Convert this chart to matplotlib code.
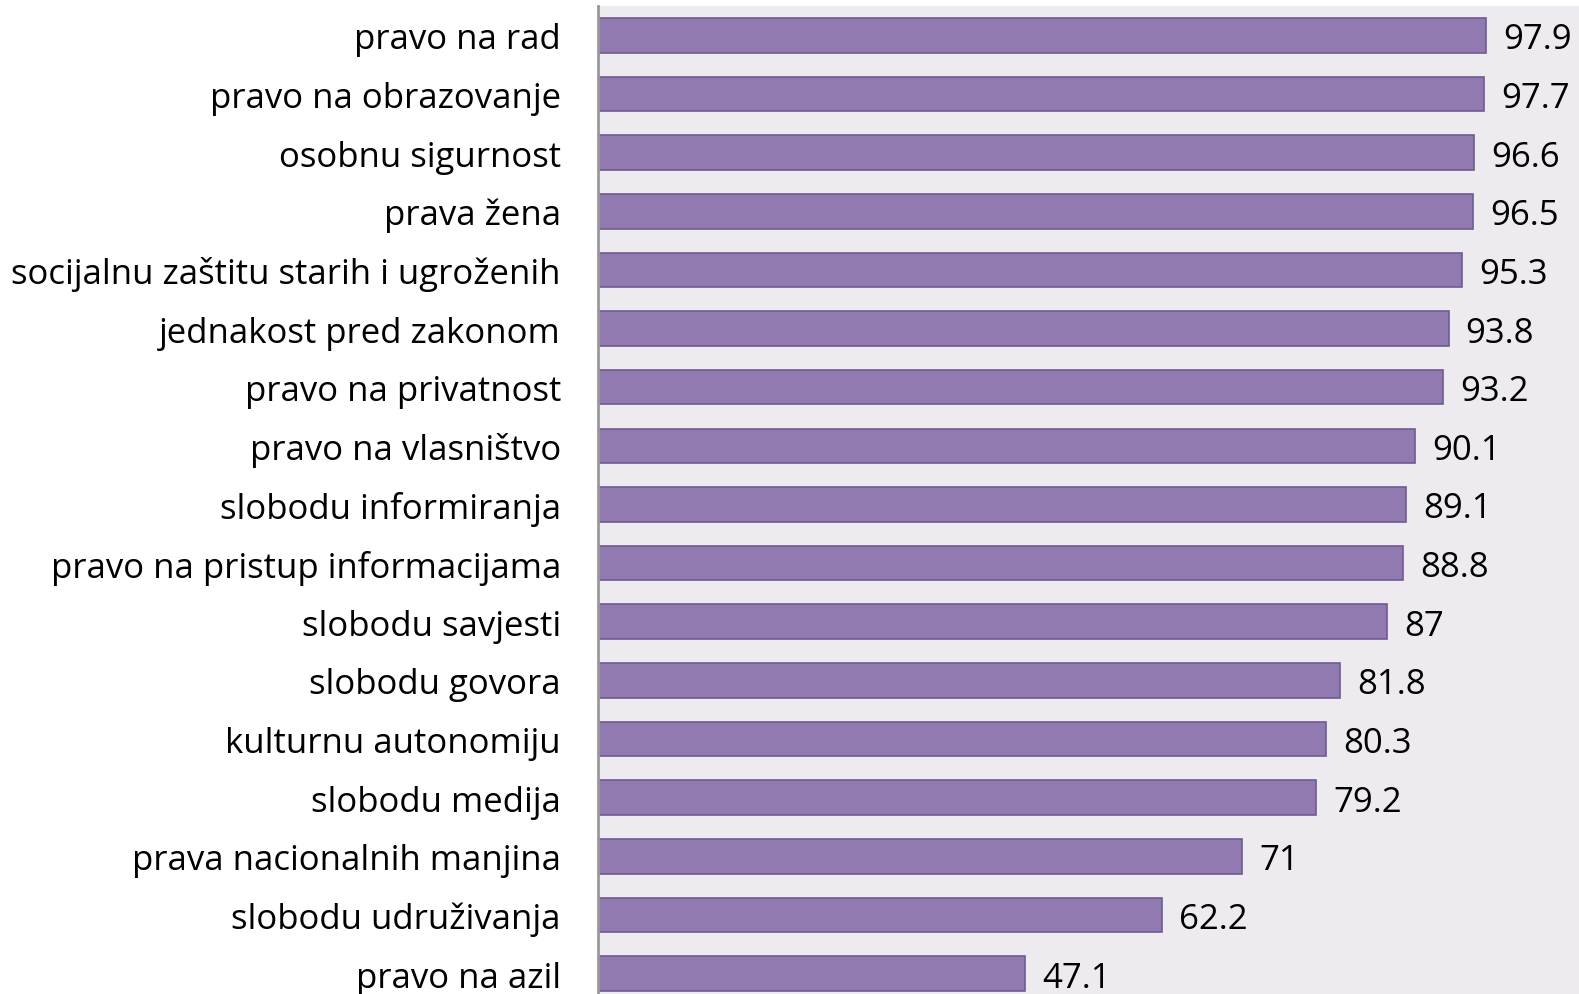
import matplotlib.pyplot as plt
from matplotlib.transforms import ScaledTranslation

categories = ['pravo na rad', 'pravo na obrazovanje', 'osobnu sigurnost', 'prava žena',
              'socijalnu zaštitu starih i ugroženih', 'jednakost pred zakonom',
              'pravo na privatnost', 'pravo na vlasništvo', 'slobodu informiranja',
              'pravo na pristup informacijama', 'slobodu savjesti', 'slobodu govora',
              'kulturnu autonomiju', 'slobodu medija', 'prava nacionalnih manjina',
              'slobodu udruživanja', 'pravo na azil']
values = [97.9, 97.7, 96.6, 96.5, 95.3, 93.8, 93.2, 90.1, 89.1, 88.8, 87, 81.8,
          80.3, 79.2, 71, 62.2, 47.1]
value_labels = ['97.9', '97.7', '96.6', '96.5', '95.3', '93.8', '93.2', '90.1', '89.1',
                '88.8', '87', '81.8', '80.3', '79.2', '71', '62.2', '47.1']

plt.rcParams['font.family'] = ['Open Sans', 'DejaVu Sans']

fig = plt.figure(figsize=(15.79, 9.95), dpi=100)
ax = fig.add_axes([0.379, -0.009, 0.621, 1.002])
ax.set_facecolor('#EEEBF0')

# nudge text a little lower, like the original
shift = ScaledTranslation(0, -4 / 100, fig.dpi_scale_trans)

y = list(range(len(categories)))
ax.barh(y, values, height=0.59, color='#917AB0', edgecolor='#6F5A92', linewidth=1.2)
for yi, v, t in zip(y, values, value_labels):
    ax.text(v + 1.9, yi, t, va='center', ha='left', fontsize=25, color='black',
            transform=ax.transData + shift)

ax.set_yticks(y)
ax.set_yticklabels(categories, fontsize=25)
for lbl in ax.get_yticklabels():
    lbl.set_transform(lbl.get_transform() + shift)
ax.tick_params(axis='y', length=0, pad=27)
ax.set_xticks([])
ax.set_xlim(0, 108.2)
ax.set_ylim(16.5, -0.5)
for s in ['top', 'right', 'bottom']:
    ax.spines[s].set_visible(False)
ax.spines['left'].set_color('#999999')
ax.spines['left'].set_linewidth(2)

fig.savefig('out.png', dpi=100)
